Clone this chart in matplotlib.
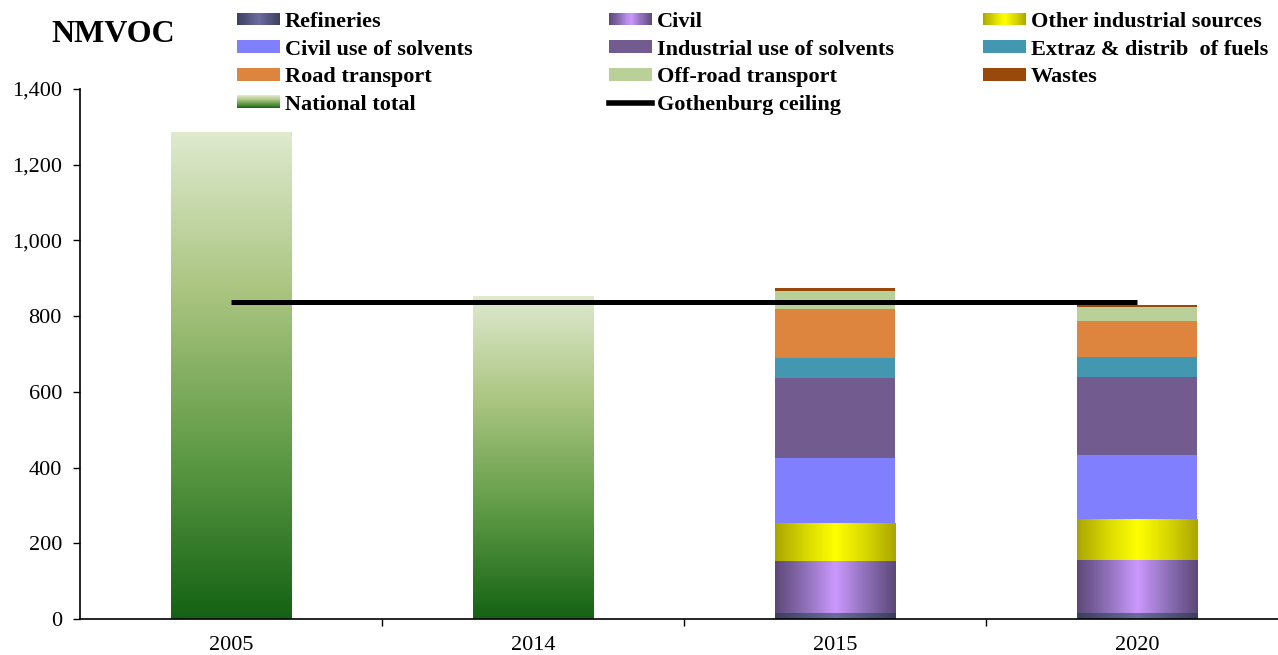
"""NMVOC emissions: national totals (2005, 2014) and sector projections (2015, 2020)."""

import numpy as np
import matplotlib

matplotlib.use("Agg")
import matplotlib.pyplot as plt  # noqa: E402
from matplotlib.colors import LinearSegmentedColormap  # noqa: E402
from matplotlib.legend_handler import HandlerBase  # noqa: E402
from matplotlib.lines import Line2D  # noqa: E402
from matplotlib.patches import Patch, Rectangle  # noqa: E402
from matplotlib.ticker import FuncFormatter  # noqa: E402

plt.rcParams["font.family"] = ["Liberation Serif", "DejaVu Serif"]

# ---- data -----------------------------------------------------------------
years = ["2005", "2014", "2015", "2020"]
total_years = ["2005", "2014"]
national_total = [1287, 854]
sector_years = ["2015", "2020"]

refineries = [17, 17]
civil = [137, 140]
other_industrial = [100, 106]
civil_solvents = [172, 169]
industrial_solvents = [211, 208]
extraz_fuels = [53, 51]
road_transport = [129, 97]
offroad_transport = [47, 37]
wastes = [8, 5]

gothenburg_ceiling = [837, 837, 837, 837]

# ---- styles ---------------------------------------------------------------
cm_total = LinearSegmentedColormap.from_list("tot", ["#146214", "#5e9a45", "#a9c47f", "#dfeacf"])
cm_ref = LinearSegmentedColormap.from_list("ref", ["#3b3f5e", "#6c6c9e"])
cm_civil = LinearSegmentedColormap.from_list("civ", ["#5c4878", "#8e70b8", "#cc99ff"])
cm_other = LinearSegmentedColormap.from_list("oth", ["#aaa500", "#d8d800", "#ffff00"])

sectors = [
    ("Refineries", refineries, cm_ref),
    ("Civil", civil, cm_civil),
    ("Other industrial sources", other_industrial, cm_other),
    ("Civil use of solvents", civil_solvents, "#8080ff"),
    ("Industrial use of solvents", industrial_solvents, "#725b8f"),
    ("Extraz & distrib  of fuels", extraz_fuels, "#4397b0"),
    ("Road transport", road_transport, "#dd843f"),
    ("Off-road transport", offroad_transport, "#b9d098"),
    ("Wastes", wastes, "#994a0a"),
]

W, H = 1278, 655
BAR_W = 0.40


class GradientHandler(HandlerBase):
    def __init__(self, cmap, vertical=False, n=40):
        super().__init__()
        self.cmap, self.vertical, self.n = cmap, vertical, n

    def create_artists(self, legend, orig_handle, xdescent, ydescent, width, height, fontsize, trans):
        arts = []
        for i in range(self.n):
            t = (i + 0.5) / self.n
            if self.vertical:
                r = Rectangle((-xdescent, -ydescent + i * height / self.n), width, height / self.n * 1.05,
                              fc=self.cmap(t), ec="none", lw=0, transform=trans)
            else:
                r = Rectangle((-xdescent + i * width / self.n, -ydescent), width / self.n * 1.05, height,
                              fc=self.cmap(1 - abs(2 * t - 1)), ec="none", lw=0, transform=trans)
            arts.append(r)
        return arts


def fill_gradient(ax, bars, cmap, vertical):
    for b in bars:
        x0, y0, w, h = b.get_x(), b.get_y(), b.get_width(), b.get_height()
        if vertical:
            grad = np.linspace(0, 1, 256).reshape(-1, 1)
        else:
            grad = (1 - np.abs(np.linspace(-1, 1, 256))).reshape(1, -1)
        im = ax.imshow(grad, extent=[x0, x0 + w, y0, y0 + h], origin="lower", aspect="auto",
                       cmap=cmap, vmin=0, vmax=1, zorder=2, interpolation="bilinear")
        im.set_clip_path(b)


fig = plt.figure(figsize=(W / 100, H / 100), dpi=100)
ax = fig.add_axes([80 / W, 1 - 619 / H, 1208 / W, 530 / H])

pos = {y: i for i, y in enumerate(years)}

# national totals with vertical gradient
xt = [pos[y] for y in total_years]
tb = ax.bar(xt, national_total, width=BAR_W, color="none", linewidth=0, zorder=2)
fill_gradient(ax, tb, cm_total, vertical=True)

# sector stacks
xs = [pos[y] for y in sector_years]
bottom = np.zeros(len(xs))
for name, vals, col in sectors:
    if isinstance(col, str):
        ax.bar(xs, vals, bottom=bottom, width=BAR_W, color=col, linewidth=0, zorder=2)
    else:
        bb = ax.bar(xs, vals, bottom=bottom, width=BAR_W, color="none", linewidth=0, zorder=2)
        fill_gradient(ax, bb, col, vertical=False)
    bottom += np.array(vals)

ax.plot(range(len(years)), gothenburg_ceiling, color="black", lw=3.6, zorder=4, solid_capstyle="butt")

ax.set_xlim(-0.5, 3.5)
ax.set_ylim(0, 1400)
ax.set_yticks(range(0, 1401, 200))
ax.yaxis.set_major_formatter(FuncFormatter(lambda v, p: f"{int(v):,}"))
ax.set_xticks(range(len(years)))
ax.set_xticklabels(years)
ax.set_xticks([0.5, 1.5, 2.5], minor=True)
ax.tick_params(axis="x", which="major", length=0, pad=12, labelsize=16)
ax.tick_params(axis="x", which="minor", length=5, width=1, direction="out")
ax.tick_params(axis="y", length=5, width=1, direction="out", pad=8, labelsize=16)
for s in ("top", "right"):
    ax.spines[s].set_visible(False)
for s in ("left", "bottom"):
    ax.spines[s].set_linewidth(1.2)

fig.text(113 / W, 1 - 34 / H, "NMVOC", ha="center", va="center", fontsize=23, fontweight="bold")

# legend: three columns placed by hand
handles = {name: Patch(facecolor=col if isinstance(col, str) else "none") for name, _, col in sectors}
hmap = {handles[name]: GradientHandler(col) for name, _, col in sectors if not isinstance(col, str)}
h_total = Patch(facecolor="none")
hmap[h_total] = GradientHandler(cm_total, vertical=True)
h_ceiling = Line2D([], [], color="black", lw=4)

columns = [
    (237, [("Refineries", handles["Refineries"]), ("Civil use of solvents", handles["Civil use of solvents"]),
           ("Road transport", handles["Road transport"]), ("National total", h_total)]),
    (609, [("Civil", handles["Civil"]), ("Industrial use of solvents", handles["Industrial use of solvents"]),
           ("Off-road transport", handles["Off-road transport"]), ("Gothenburg ceiling", h_ceiling)]),
    (983, [("Other industrial sources", handles["Other industrial sources"]),
           ("Extraz & distrib  of fuels", handles["Extraz & distrib  of fuels"]),
           ("Wastes", handles["Wastes"])]),
]
for x, entries in columns:
    leg = fig.legend([h for _, h in entries], [n for n, _ in entries], loc="upper left",
                     bbox_to_anchor=(x / W, 1 - 12 / H), bbox_transform=fig.transFigure,
                     frameon=False, borderpad=0, borderaxespad=0, handlelength=1.95, handleheight=0.5,
                     handletextpad=0.2, labelspacing=0.34, handler_map=hmap,
                     prop={"size": 16, "weight": "bold"})

fig.savefig("out.png", dpi=100)
